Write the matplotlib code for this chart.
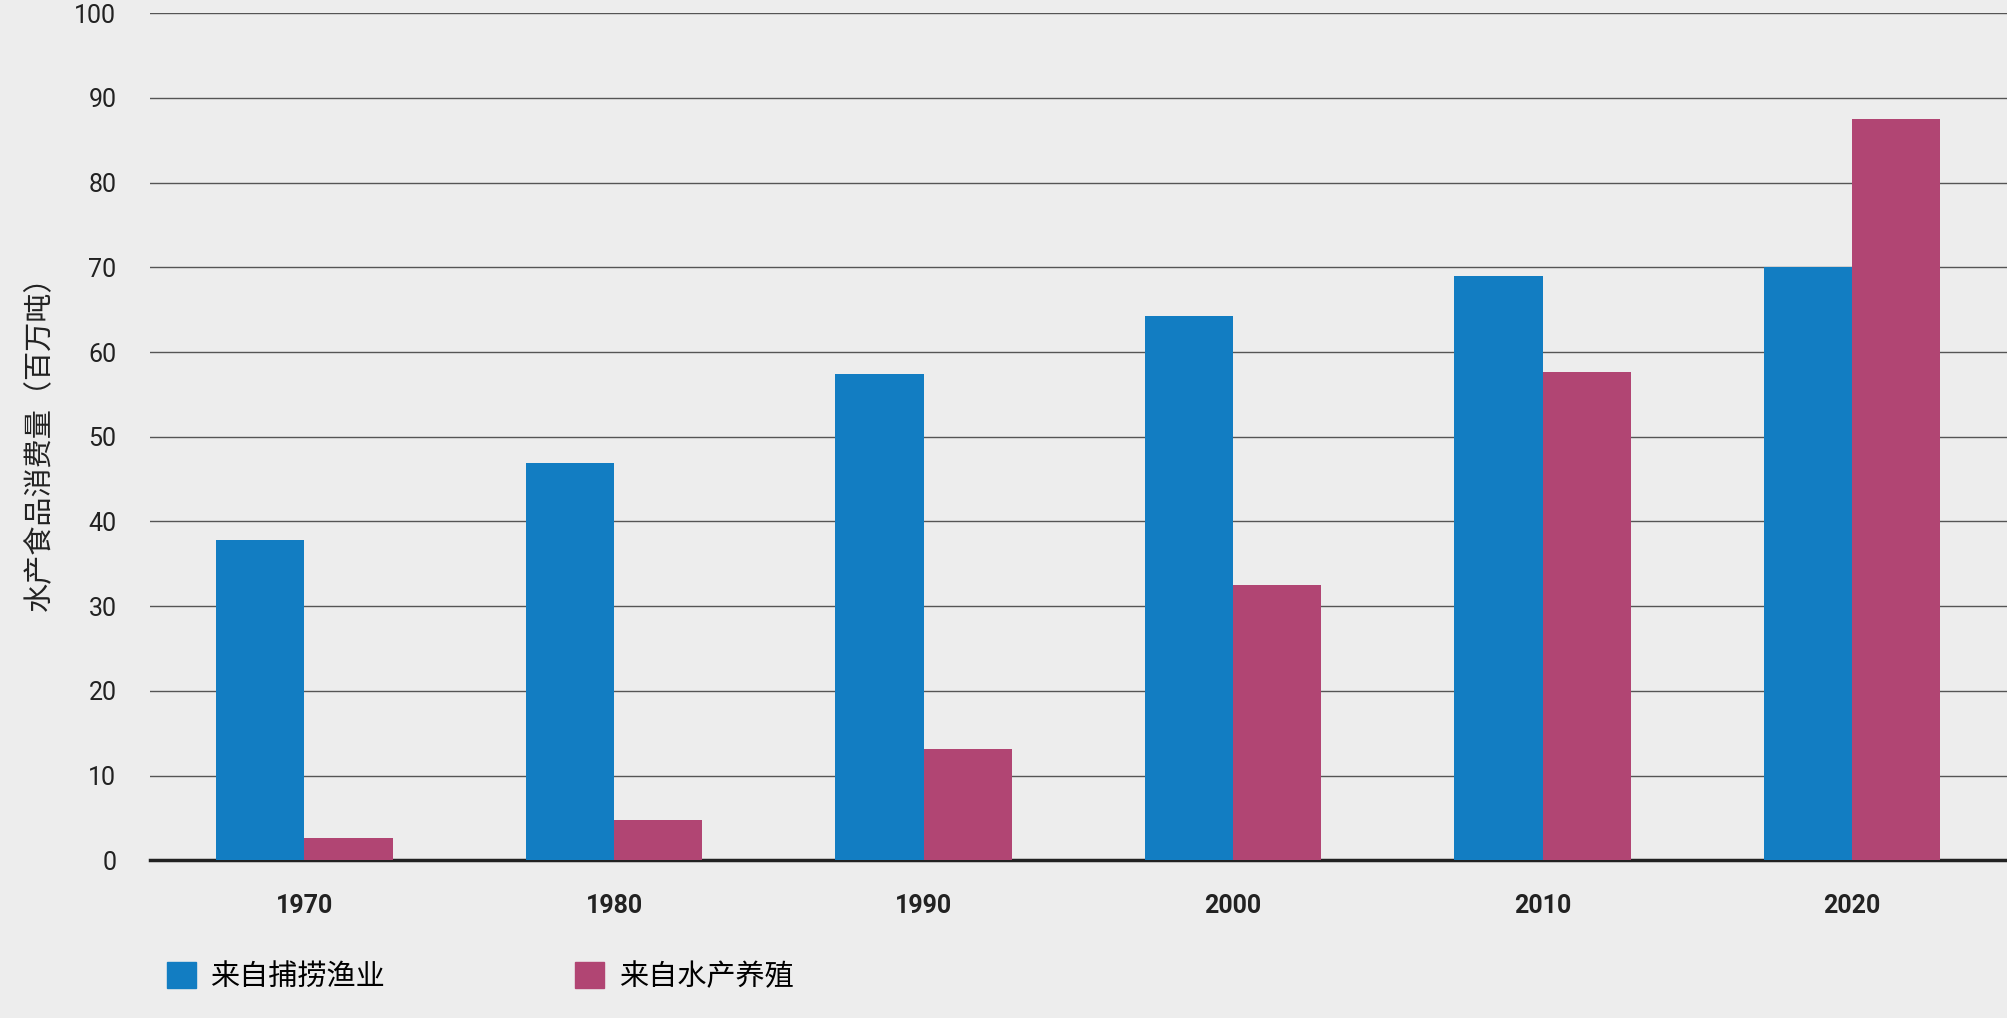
import matplotlib
matplotlib.use("Agg")
import matplotlib.pyplot as plt
from matplotlib.patches import Patch
import numpy as np

years = ["1970", "1980", "1990", "2000", "2010", "2020"]
capture = [37.8, 46.9, 57.4, 64.3, 69.0, 70.0]
aquaculture = [2.6, 4.8, 13.1, 32.5, 57.7, 87.5]
series_names = ["来自捕捞渔业", "来自水产养殖"]
y_label = "水产食品消费量（百万吨）"

BLUE = "#127dc2"
PINK = "#b14573"
BG = "#ededed"

plt.rcParams["font.family"] = ["Noto Sans CJK SC", "DejaVu Sans"]

fig = plt.figure(figsize=(20.07, 10.18), dpi=100, facecolor=BG)
ax = fig.add_axes([0.0746, 0.155, 0.9254, 0.832], facecolor=BG)

x = np.arange(len(years))
w = 0.285
ax.bar(x - w / 2, capture, w, color=BLUE, zorder=3)
ax.bar(x + w / 2, aquaculture, w, color=PINK, zorder=3)

ax.set_xlim(-0.5, 5.5)
ax.set_ylim(0, 100)
ax.set_yticks(range(0, 101, 10))
ax.yaxis.grid(True, color="#555555", linewidth=1.0, zorder=0)
for s in ["top", "right", "left"]:
    ax.spines[s].set_visible(False)
ax.spines["bottom"].set_linewidth(2.5)
ax.spines["bottom"].set_color("#222222")
ax.tick_params(axis="y", length=0, pad=24, labelsize=18, labelcolor="#222222")
ax.tick_params(axis="x", length=0, pad=24)
ax.set_xticks(x)
ax.set_xticklabels(years, fontsize=18, fontweight="bold", family="Roboto", color="#222222")
for t in ax.get_yticklabels():
    t.set_family("Roboto")
ax.set_ylabel(y_label, fontsize=21, labelpad=14, color="#222222")

handles = [Patch(color=BLUE), Patch(color=PINK)]
fig.legend(handles, series_names, loc="lower left", bbox_to_anchor=(0.07, 0.0),
           ncol=2, frameon=False, fontsize=21, handlelength=1.0, handleheight=1.0,
           columnspacing=6.5, handletextpad=0.5)

fig.savefig("out.png", dpi=100, facecolor=BG)
